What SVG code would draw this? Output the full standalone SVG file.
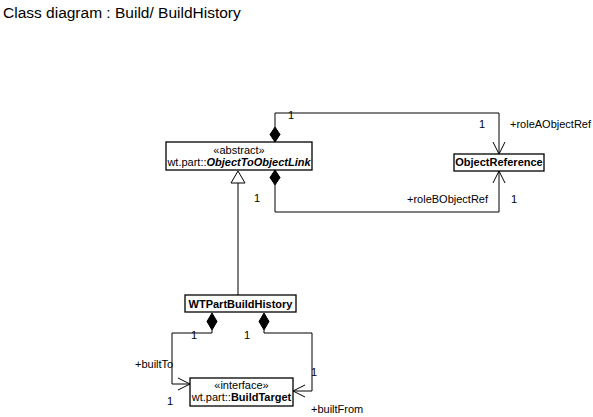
<svg xmlns="http://www.w3.org/2000/svg" width="593" height="417" viewBox="0 0 593 417">
<style>
text{font-family:"Liberation Sans",Arial,sans-serif;font-size:11px;fill:#000}
.title{font-size:15.5px}
.box{fill:#fff;stroke:#000;stroke-width:1.3}
.b{font-weight:bold}
.bi{font-weight:bold;font-style:italic}
.line{fill:none;stroke:#000;stroke-width:1}
.dia{fill:#000;stroke:#000}
.open{fill:none;stroke:#000;stroke-width:1}
.tri{fill:#fff;stroke:#000;stroke-width:1}
</style>
<rect width="593" height="417" fill="#fff"/>
<text class="title" x="3" y="18">Class diagram : Build/ BuildHistory</text>

<g id="connectors">
  <!-- roleA -->
  <path class="line" d="M275,127 V113 H499 V154"/>
  <path class="dia" d="M275,127 L280,134.5 L275,142 L270,134.5 Z"/>
  <path class="open" d="M493,142 L499,154 L505,142"/>
  <!-- roleB -->
  <path class="line" d="M275,185 V212 H499 V171"/>
  <path class="dia" d="M275,170 L280,177.5 L275,185 L270,177.5 Z"/>
  <path class="open" d="M493,183 L499,171 L505,183"/>
  <!-- generalization -->
  <path class="line" d="M238,183 V295"/>
  <path class="tri" d="M238,171 L245,183 L231,183 Z"/>
  <!-- builtTo -->
  <path class="line" d="M212,330 V333 H172 V384 H190"/>
  <path class="dia" d="M212,313 L217,321.5 L212,330 L207,321.5 Z"/>
  <path class="open" d="M178,378 L190,384 L178,390"/>
  <!-- builtFrom -->
  <path class="line" d="M264,330 V333 H312 V391 H293"/>
  <path class="dia" d="M264,313 L269,321.5 L264,330 L259,321.5 Z"/>
  <path class="open" d="M305,385 L293,391 L305,397"/>
</g>

<g id="ObjectToObjectLink">
  <rect class="box" x="166" y="142" width="146" height="28"/>
  <text x="239" y="154" text-anchor="middle">«abstract»</text>
  <text x="239" y="166" text-anchor="middle">wt.part::<tspan class="bi">ObjectToObjectLink</tspan></text>
</g>

<g id="ObjectReference">
  <rect class="box" x="454" y="154" width="90" height="17"/>
  <text class="b" x="499" y="166" text-anchor="middle">ObjectReference</text>
</g>

<g id="WTPartBuildHistory">
  <rect class="box" x="185" y="295" width="111" height="17"/>
  <text class="b" x="240.5" y="308" text-anchor="middle">WTPartBuildHistory</text>
</g>

<g id="BuildTarget">
  <rect class="box" x="190" y="378" width="103" height="28"/>
  <text x="241.5" y="389" text-anchor="middle">«interface»</text>
  <text x="241.5" y="401" text-anchor="middle">wt.part::<tspan class="b">BuildTarget</tspan></text>
</g>

<g id="labels">
  <text x="288" y="119">1</text>
  <text x="479" y="128">1</text>
  <text x="510" y="128">+roleAObjectRef</text>
  <text x="254" y="202">1</text>
  <text x="407" y="203">+roleBObjectRef</text>
  <text x="511" y="203">1</text>
  <text x="191" y="339">1</text>
  <text x="244" y="339">1</text>
  <text x="135" y="368">+builtTo</text>
  <text x="167" y="405">1</text>
  <text x="311" y="376">1</text>
  <text x="311" y="413">+builtFrom</text>
</g>
</svg>
